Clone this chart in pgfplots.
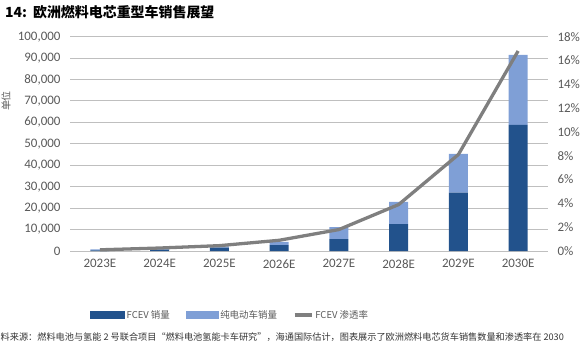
\documentclass[border=0pt]{standalone}
\usepackage{pgfplots}
\pgfplotsset{compat=1.18}
\usepackage{fontspec}
\setmainfont{Carlito}
\newfontfamily\cjk{Noto Sans CJK SC}
\definecolor{dblue}{HTML}{22528C}
\definecolor{lblue}{HTML}{7F9FD6}
\definecolor{lgray}{HTML}{7F7F7F}
\definecolor{gridc}{HTML}{BFBFBF}
\definecolor{tickc}{HTML}{595959}
\begin{document}
\begin{tikzpicture}
\path[use as bounding box] (0bp,0bp) rectangle (583bp,-353bp);
\begin{axis}[
  at={(70bp,-251bp)}, anchor=south west,
  scale only axis, width=478bp, height=214.3bp,
  xmin=-0.5, xmax=7.5, ymin=0, ymax=100000,
  ybar stacked, bar width=19bp,
  axis line style={draw=none}, major tick length=0pt,
  ymajorgrids, grid style={gridc, line width=1pt},
  xtick={0,...,7},
  xticklabels={2023E,2024E,2025E,2026E,2027E,2028E,2029E,2030E},
  ytick={0,10000,20000,30000,40000,50000,60000,70000,80000,90000,100000},
  yticklabels={0,{10,000},{20,000},{30,000},{40,000},{50,000},{60,000},{70,000},{80,000},{90,000},{100,000}},
  scaled y ticks=false,
  tick label style={font=\fontsize{13}{13}\selectfont, text=tickc},
  yticklabel style={xshift=-6bp},
  xticklabel style={yshift=-5bp},
]
\addplot[fill=dblue, draw=none] coordinates {(0,300) (1,600) (2,1600) (3,2800) (4,5500) (5,12600) (6,27200) (7,58800)};
\addplot[fill=lblue, draw=none] coordinates {(0,500) (1,500) (2,600) (3,1500) (4,5600) (5,10300) (6,18100) (7,32700)};
\end{axis}
\begin{axis}[
  at={(70bp,-251bp)}, anchor=south west,
  scale only axis, width=478bp, height=214.3bp,
  xmin=-0.5, xmax=7.5, ymin=0, ymax=18,
  axis x line=none, axis y line*=right,
  axis line style={draw=none}, major tick length=0pt,
  ytick={0,2,4,6,8,10,12,14,16,18},
  yticklabels={0\%,2\%,4\%,6\%,8\%,10\%,12\%,14\%,16\%,18\%},
  tick label style={font=\fontsize{13}{13}\selectfont, text=tickc},
  yticklabel style={xshift=6bp},
  legend columns=3,
  legend style={at={(axis description cs:0.042,-0.299)}, anchor=west, draw=none, fill=none,
    font=\cjk\fontsize{9.5}{9.5}\selectfont, text=tickc,
    /tikz/every even column/.append style={column sep=14bp}, inner sep=0pt},
]
\addlegendimage{legend image code/.code={\fill[dblue] (0bp,-3.5bp) rectangle (34bp,3.5bp);}}
\addlegendentry{FCEV 销量}
\addlegendimage{legend image code/.code={\fill[lblue] (0bp,-3.5bp) rectangle (32bp,3.5bp);}}
\addlegendentry{纯电动车销量}
\addplot[lgray, line width=3.3pt, line join=round] coordinates {(0,0.1) (1,0.25) (2,0.45) (3,0.9) (4,1.8) (5,3.9) (6,8.1) (7,16.8)};
\addlegendentry{FCEV 渗透率}
\end{axis}
\node[anchor=west, inner sep=0pt] at (5bp,-12bp) {\cjk\bfseries\fontsize{14}{14}\selectfont 14:\hspace{6bp}欧洲燃料电芯重型车销售展望};
\node[anchor=center, rotate=90, inner sep=0pt, text=tickc] at (6bp,-101bp) {\cjk\fontsize{10}{10}\selectfont 单位};
\node[anchor=west, inner sep=0pt, text=black!80] at (0.5bp,-337bp) {\cjk\fontsize{9.2}{9.2}\selectfont 料来源：燃料电池与氢能 2 号联合项目“燃料电池氢能卡车研究”，海通国际估计，图表展示了欧洲燃料电芯货车销售数量和渗透率在 2030};
\end{tikzpicture}
\end{document}
